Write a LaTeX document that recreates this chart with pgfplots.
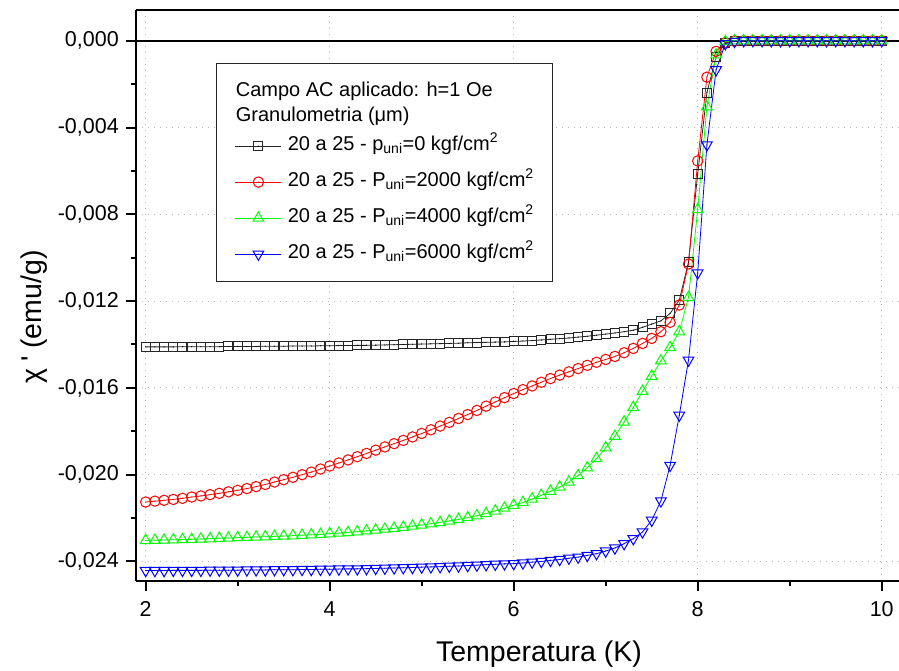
\documentclass[border=0pt]{standalone}
\usepackage{fontspec}
\setmainfont{Liberation Sans}[Ligatures=TeXOff]
\usepackage{pgfplots}
\usepackage{pgfplotstable}
\pgfplotsset{compat=1.18}

\pgfdeclareplotmark{sqd}{%
  \pgfpathrectangle{\pgfqpoint{-\pgfplotmarksize}{-\pgfplotmarksize}}{\pgfqpoint{2\pgfplotmarksize}{2\pgfplotmarksize}}%
  \pgfusepathqstroke
  \pgfpathcircle{\pgfpointorigin}{0.65pt}\pgfusepathqfill}
\pgfdeclareplotmark{ocd}{%
  \pgfpathcircle{\pgfpointorigin}{\pgfplotmarksize}\pgfusepathqstroke
  \pgfpathcircle{\pgfpointorigin}{0.65pt}\pgfusepathqfill}
\pgfdeclareplotmark{tud}{%
  \pgfpathmoveto{\pgfqpoint{0pt}{\pgfplotmarksize}}%
  \pgfpathlineto{\pgfqpointpolar{210}{\pgfplotmarksize}}%
  \pgfpathlineto{\pgfqpointpolar{-30}{\pgfplotmarksize}}%
  \pgfpathclose\pgfusepathqstroke
  \pgfpathcircle{\pgfpointorigin}{0.65pt}\pgfusepathqfill}
\pgfdeclareplotmark{tdd}{%
  \pgfpathmoveto{\pgfqpoint{0pt}{-\pgfplotmarksize}}%
  \pgfpathlineto{\pgfqpointpolar{150}{\pgfplotmarksize}}%
  \pgfpathlineto{\pgfqpointpolar{30}{\pgfplotmarksize}}%
  \pgfpathclose\pgfusepathqstroke
  \pgfpathcircle{\pgfpointorigin}{0.65pt}\pgfusepathqfill}

\pgfplotstableread{
T blk red grn blu
2.0 -0.01411 -0.02126 -0.02303 -0.02442
2.1 -0.01411 -0.02122 -0.02302 -0.02442
2.2 -0.01411 -0.02118 -0.02301 -0.02442
2.3 -0.01411 -0.02114 -0.02300 -0.02441
2.4 -0.01410 -0.02109 -0.02299 -0.02441
2.5 -0.01410 -0.02103 -0.02298 -0.02441
2.6 -0.01410 -0.02098 -0.02296 -0.02441
2.7 -0.01410 -0.02092 -0.02295 -0.02440
2.8 -0.01410 -0.02086 -0.02293 -0.02440
2.9 -0.01409 -0.02079 -0.02292 -0.02440
3.0 -0.01409 -0.02072 -0.02290 -0.02440
3.1 -0.01409 -0.02064 -0.02289 -0.02439
3.2 -0.01409 -0.02055 -0.02287 -0.02439
3.3 -0.01408 -0.02045 -0.02286 -0.02439
3.4 -0.01408 -0.02034 -0.02284 -0.02438
3.5 -0.01408 -0.02023 -0.02283 -0.02438
3.6 -0.01407 -0.02012 -0.02281 -0.02438
3.7 -0.01407 -0.02000 -0.02279 -0.02437
3.8 -0.01407 -0.01988 -0.02277 -0.02437
3.9 -0.01406 -0.01974 -0.02275 -0.02436
4.0 -0.01406 -0.01960 -0.02272 -0.02436
4.1 -0.01405 -0.01946 -0.02269 -0.02435
4.2 -0.01405 -0.01932 -0.02266 -0.02434
4.3 -0.01404 -0.01917 -0.02263 -0.02434
4.4 -0.01404 -0.01902 -0.02259 -0.02433
4.5 -0.01403 -0.01887 -0.02255 -0.02432
4.6 -0.01402 -0.01872 -0.02251 -0.02431
4.7 -0.01401 -0.01857 -0.02247 -0.02430
4.8 -0.01400 -0.01842 -0.02242 -0.02429
4.9 -0.01399 -0.01826 -0.02237 -0.02428
5.0 -0.01398 -0.01810 -0.02232 -0.02426
5.1 -0.01397 -0.01793 -0.02226 -0.02425
5.2 -0.01396 -0.01776 -0.02220 -0.02424
5.3 -0.01395 -0.01759 -0.02213 -0.02422
5.4 -0.01394 -0.01741 -0.02206 -0.02421
5.5 -0.01392 -0.01723 -0.02198 -0.02419
5.6 -0.01391 -0.01704 -0.02189 -0.02417
5.7 -0.01390 -0.01684 -0.02179 -0.02415
5.8 -0.01389 -0.01665 -0.02167 -0.02413
5.9 -0.01388 -0.01645 -0.02154 -0.02411
6.0 -0.01386 -0.01626 -0.02141 -0.02410
6.1 -0.01384 -0.01608 -0.02128 -0.02407
6.2 -0.01382 -0.01591 -0.02112 -0.02403
6.3 -0.01379 -0.01574 -0.02095 -0.02400
6.4 -0.01376 -0.01557 -0.02076 -0.02395
6.5 -0.01373 -0.01541 -0.02057 -0.02391
6.6 -0.01370 -0.01526 -0.02034 -0.02385
6.7 -0.01366 -0.01511 -0.02004 -0.02380
6.8 -0.01362 -0.01496 -0.01968 -0.02372
6.9 -0.01357 -0.01482 -0.01926 -0.02364
7.0 -0.01352 -0.01469 -0.01876 -0.02352
7.1 -0.01347 -0.01455 -0.01823 -0.02338
7.2 -0.01341 -0.01438 -0.01757 -0.02318
7.3 -0.01334 -0.01418 -0.01690 -0.02295
7.4 -0.01321 -0.01395 -0.01616 -0.02264
7.5 -0.01306 -0.01372 -0.01546 -0.02210
7.6 -0.01291 -0.01341 -0.01475 -0.02121
7.7 -0.01257 -0.01298 -0.01414 -0.01957
7.8 -0.01195 -0.01218 -0.01341 -0.01726
7.9 -0.01020 -0.01029 -0.01183 -0.01472
8.0 -0.00614 -0.00554 -0.00778 -0.01070
8.1 -0.00239 -0.00168 -0.00304 -0.00480
8.2 -0.00075 -0.00049 -0.00065 -0.00134
8.3 -0.00010 -0.00008 -0.00004 -0.00014
8.4 -0.00002 -0.00002 0 -0.00003
8.5 0 0 0 0
8.6 0 0 0 0
8.7 0 0 0 0
8.8 0 0 0 0
8.9 0 0 0 0
9.0 0 0 0 0
9.1 0 0 0 0
9.2 0 0 0 0
9.3 0 0 0 0
9.4 0 0 0 0
9.5 0 0 0 0
9.6 0 0 0 0
9.7 0 0 0 0
9.8 0 0 0 0
9.9 0 0 0 0
10.0 0 0 0 0
}\datatab

\newcommand\sta{\rule[-5pt]{0pt}{28.5pt}}
\newcommand\stb{\rule[-6.3pt]{0pt}{27pt}}
\newcommand\ste{\rule[-14pt]{0pt}{36pt}}

\begin{document}
\begin{tikzpicture}
\useasboundingbox (0,0) rectangle (899pt,670pt);
\begin{axis}[
  at={(136.3pt,89pt)}, anchor=south west,
  scale only axis, width=762.7pt, height=571.3pt,
  xmin=1.898, xmax=10.188, ymin=-0.0249, ymax=0.00143,
  axis x line*=box, axis y line*=left,
  axis line style={line width=2pt},
  xtick={2,4,6,8,10}, minor xtick={3,5,7,9},
  ytick={-0.024,-0.02,-0.016,-0.012,-0.008,-0.004,0},
  minor ytick={-0.022,-0.018,-0.014,-0.01,-0.006,-0.002},
  xtick pos=left, ytick pos=left,
  tick align=outside, major tick length=10pt, minor tick length=5pt,
  every tick/.style={black, line width=2pt},
  grid=major,
  major grid style={black!28, line width=1.1pt, dash pattern=on 1.1pt off 4.9pt},
  scaled y ticks=false,
  /pgf/number format/assume math mode=true,
  yticklabel style={/pgf/number format/.cd, fixed, fixed zerofill, precision=3, use comma, /tikz/.cd, xshift=-4pt},
  xticklabel style={/pgf/number format/.cd, fixed, precision=0, /tikz/.cd, yshift=-7pt},
  tick label style={font=\fontsize{21.5}{22}\selectfont},
  xlabel={Temperatura (K)},
  ylabel={χ\kern7pt' (emu/g)},
  every axis x label/.style={at={(axis description cs:0.528,-0.1413)}, anchor=base, font=\fontsize{28.5}{30}\selectfont},
  every axis y label/.style={at={(axis description cs:-0.124,0.462)}, anchor=base, rotate=90, font=\fontsize{28.5}{30}\selectfont},
  legend style={at={(axis description cs:0.1045,0.9067)}, anchor=north west,
    draw=black!85, line width=1.2pt, fill=white,
    font=\fontsize{20}{22}\selectfont,
    inner xsep=18.4pt, inner ysep=9pt, row sep=0pt, column sep=6pt,
    nodes={inner sep=0pt, text depth=}},
  legend cell align=left,
  legend image code/.code={\draw[mark repeat=2,mark phase=2] plot coordinates {(0pt,0pt) (23pt,0pt) (46pt,0pt)};},
]
\addplot[black, line width=2pt, forget plot] coordinates {(1.898,0) (10.188,0)};
\addlegendimage{empty legend}
\addlegendentry{\hspace{-52pt}\sta Campo AC aplicado: h=1 Oe}
\addlegendimage{empty legend}
\addlegendentry{\hspace{-52pt}\stb Granulometria (μm)}
\addplot[black!85, line width=0.8pt, mark=sqd, mark size=4.5pt, mark options={solid, fill=black, line width=1pt}] table[x=T,y=blk]{\datatab};
\addlegendentry{\ste 20 a 25 - p\textsubscript{uni}=0 kgf/cm\textsuperscript{2}}
\addplot[red, line width=0.8pt, mark=ocd, mark size=5.2pt, mark options={solid, fill=red, line width=1pt}] table[x=T,y=red]{\datatab};
\addlegendentry{\ste 20 a 25 - P\textsubscript{uni}=2000 kgf/cm\textsuperscript{2}}
\addplot[green, line width=0.8pt, mark=tud, mark size=6.2pt, mark options={solid, fill=green, line width=1pt}] table[x=T,y=grn]{\datatab};
\addlegendentry{\ste 20 a 25 - P\textsubscript{uni}=4000 kgf/cm\textsuperscript{2}}
\addplot[blue, line width=0.8pt, mark=tdd, mark size=6.2pt, mark options={solid, fill=blue, line width=1pt}] table[x=T,y=blu]{\datatab};
\addlegendentry{\ste 20 a 25 - P\textsubscript{uni}=6000 kgf/cm\textsuperscript{2}}
\end{axis}
\end{tikzpicture}
\end{document}
